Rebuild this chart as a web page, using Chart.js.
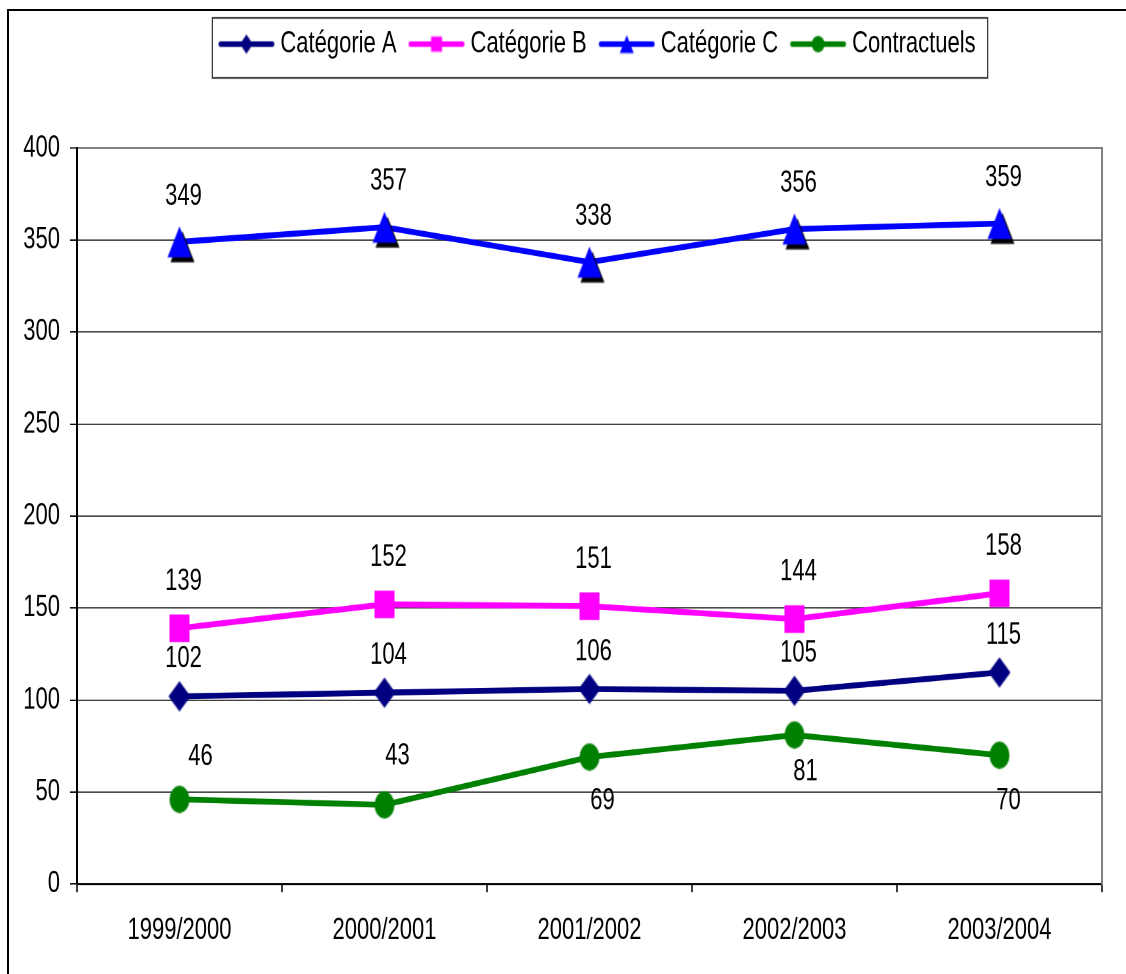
<!DOCTYPE html>
<html>
<head>
<meta charset="utf-8">
<script src="https://cdn.jsdelivr.net/npm/chart.js@4.4.1/dist/chart.umd.min.js"></script>
<style>
  html, body { margin: 0; padding: 0; background: #fff; overflow: hidden; }
  #frame { position: absolute; left: 7px; top: 9px; width: 1178px; height: 1000px; border: 2px solid #000; }
  /* the original picture is stretched vertically, so the canvas is too */
  #chart { display: block; transform-origin: 0 0; transform: scaleY(1.38); }
</style>
</head>
<body>
<div id="frame"><canvas id="chart" width="1178" height="698"></canvas></div>
<script>
// data
const years = ['1999/2000', '2000/2001', '2001/2002', '2002/2003', '2003/2004'];
const categorieA = [102, 104, 106, 105, 115];
const categorieB = [139, 152, 151, 144, 158];
const categorieC = [349, 357, 338, 356, 359];
const contractuels = [46, 43, 69, 81, 70];
const seriesNames = ['Catégorie A', 'Catégorie B', 'Catégorie C', 'Contractuels'];
const yMin = 0, yMax = 400, yStep = 50;

const FONT = '"Liberation Sans", Arial, sans-serif';
Chart.defaults.font.family = FONT;
Chart.defaults.font.size = 22;
Chart.defaults.color = '#000';

function shapePath(ctx, shape, cx, cy, w, h) {
    ctx.beginPath();
    if (shape === 'diamond') {
        ctx.moveTo(cx, cy - h / 2);
        ctx.lineTo(cx + w / 2, cy);
        ctx.lineTo(cx, cy + h / 2);
        ctx.lineTo(cx - w / 2, cy);
    } else if (shape === 'square') {
        ctx.rect(cx - w / 2, cy - h / 2, w, h);
    } else if (shape === 'triangle') {
        ctx.moveTo(cx, cy - h / 2);
        ctx.lineTo(cx + w / 2, cy + h / 2);
        ctx.lineTo(cx - w / 2, cy + h / 2);
    } else {
        ctx.ellipse(cx, cy, w / 2, h / 2, 0, 0, Math.PI * 2);
    }
    ctx.closePath();
}

function makeMarker(shape, color, w, h, shadow) {
    const pad = shadow ? 5 : 1;
    const c = document.createElement('canvas');
    c.width = w + pad * 2;
    c.height = h + pad * 2;
    const ctx = c.getContext('2d');
    if (shadow) {
        ctx.fillStyle = '#000';
        shapePath(ctx, shape, c.width / 2 + 3, c.height / 2 + 3.6, w, h);
        ctx.fill();
    }
    ctx.fillStyle = color;
    shapePath(ctx, shape, c.width / 2, c.height / 2, w, h);
    ctx.fill();
    return c;
}

function makeLegendIcon(shape, color, w, h) {
    const c = document.createElement('canvas');
    c.width = 58;
    c.height = 20;
    const ctx = c.getContext('2d');
    ctx.strokeStyle = color;
    ctx.lineWidth = 4;
    ctx.lineCap = 'round';
    ctx.beginPath();
    ctx.moveTo(3, 10);
    ctx.lineTo(55, 10);
    ctx.stroke();
    ctx.fillStyle = color;
    shapePath(ctx, shape, 29, 10, w, h);
    ctx.fill();
    return c;
}

const colors = ['#000080', '#FF00FF', '#0000FF', '#008000'];
const markers = [
    makeMarker('diamond', colors[0], 22, 22, false),
    makeMarker('square', colors[1], 20, 20, false),
    makeMarker('triangle', colors[2], 24, 22.5, true),
    makeMarker('ellipse', colors[3], 20, 20, false)
];
const legendIcons = [
    makeLegendIcon('diamond', colors[0], 13, 14),
    makeLegendIcon('square', colors[1], 11, 11),
    makeLegendIcon('triangle', colors[2], 14, 13),
    makeLegendIcon('ellipse', colors[3], 13, 12)
];

const valueLabels = {
    id: 'valueLabels',
    afterDatasetsDraw(chart, args, opts) {
        const ctx = chart.ctx;
        ctx.save();
        ctx.font = '22px ' + FONT;
        ctx.fillStyle = '#000';
        ctx.textAlign = 'center';
        ctx.textBaseline = 'middle';
        chart.data.datasets.forEach((ds, i) => {
            const off = opts.offsets[i];
            chart.getDatasetMeta(i).data.forEach((pt, j) => {
                const dx = Array.isArray(off.dx) ? off.dx[j] : off.dx;
                const dy = Array.isArray(off.dy) ? off.dy[j] : off.dy;
                ctx.fillText(String(ds.data[j]), pt.x + dx, pt.y + dy);
            });
        });
        ctx.restore();
    }
};

const legendSpace = {
    id: 'legendSpace',
    beforeLayout(chart) {
        const legend = chart.legend;
        if (legend && !legend._spaced) {
            const fit = legend.fit;
            legend.fit = function () { fit.call(this); this.height = 103.3; };
            legend._spaced = true;
        }
    }
};

const legendFrame = {
    id: 'legendFrame',
    afterDraw(chart) {
        const { ctx, legend } = chart;
        const hb = legend.legendHitBoxes;
        if (!hb || !hb.length) return;
        const last = hb[hb.length - 1];
        const l = hb[0].left - 11;
        const r = last.left + last.width + 12;
        const cy = hb[0].top + hb[0].height / 2;
        ctx.save();
        ctx.strokeStyle = '#333';
        ctx.lineWidth = 1.2;
        ctx.strokeRect(l, cy - 19, r - l, 43.5);
        ctx.restore();
    }
};

const seriesData = [categorieA, categorieB, categorieC, contractuels];

new Chart(document.getElementById('chart').getContext('2d'), {
    type: 'line',
    data: {
        labels: years,
        datasets: seriesData.map((vals, i) => ({
            label: seriesNames[i],
            data: vals,
            yAxisID: 'y',
            borderColor: colors[i],
            backgroundColor: colors[i],
            borderWidth: 4.3,
            pointStyle: markers[i],
            pointRadius: 10,
            pointHoverRadius: 10,
            tension: 0,
            fill: false,
            clip: false
        }))
    },
    options: {
        responsive: false,
        devicePixelRatio: 2,
        animation: false,
        events: [],
        layout: { padding: { top: -4, right: 0, bottom: 0, left: 3 } },
        plugins: {
            tooltip: { enabled: false },
            legend: {
                position: 'top',
                labels: {
                    usePointStyle: true,
                    pointStyleWidth: 46,
                    padding: 17,
                    font: { size: 22 },
                    color: '#000',
                    generateLabels(chart) {
                        return chart.data.datasets.map((ds, i) => ({
                            text: ds.label,
                            pointStyle: legendIcons[i],
                            fillStyle: colors[i],
                            strokeStyle: colors[i],
                            lineWidth: 0,
                            hidden: false,
                            datasetIndex: i
                        }));
                    }
                }
            },
            valueLabels: {
                offsets: [
                    { dx: 4, dy: -27 },
                    { dx: 4, dy: -34 },
                    { dx: 4, dy: -33 },
                    { dx: [21, 13, 13, 11, 9], dy: [-31, -35.5, 32, 27, 33] }
                ]
            }
        },
        scales: {
            x: {
                offset: true,
                afterFit(scale) { scale.height = 65.4; },
                grid: { offset: true, drawOnChartArea: false, tickLength: 6, tickColor: '#000', tickWidth: 1.5 },
                border: { color: '#000', width: 1.5 },
                ticks: { padding: 14.5, color: '#000', maxRotation: 0, font: { size: 22 } }
            },
            y: {
                position: 'left',
                min: yMin,
                max: yMax,
                afterFit(scale) { scale.width = 65; },
                ticks: { stepSize: yStep, padding: 10, color: '#000', font: { size: 22 } },
                grid: {
                    color: c => (c.tick && c.tick.value === yMax ? '#808080' : '#000'),
                    lineWidth: c => (c.tick && c.tick.value === yMax ? 1.5 : 0.8),
                    tickLength: 7,
                    tickColor: '#000',
                    tickWidth: 1
                },
                border: { color: '#000', width: 2 }
            },
            // empty right axis: keeps the space right of the plot and draws its grey edge
            y2: {
                position: 'right',
                min: yMin,
                max: yMax,
                afterFit(scale) { scale.width = 85; },
                ticks: { display: false },
                grid: { display: false },
                border: { color: '#808080', width: 2 }
            }
        }
    },
    plugins: [legendSpace, valueLabels, legendFrame]
});
</script>
</body>
</html>
